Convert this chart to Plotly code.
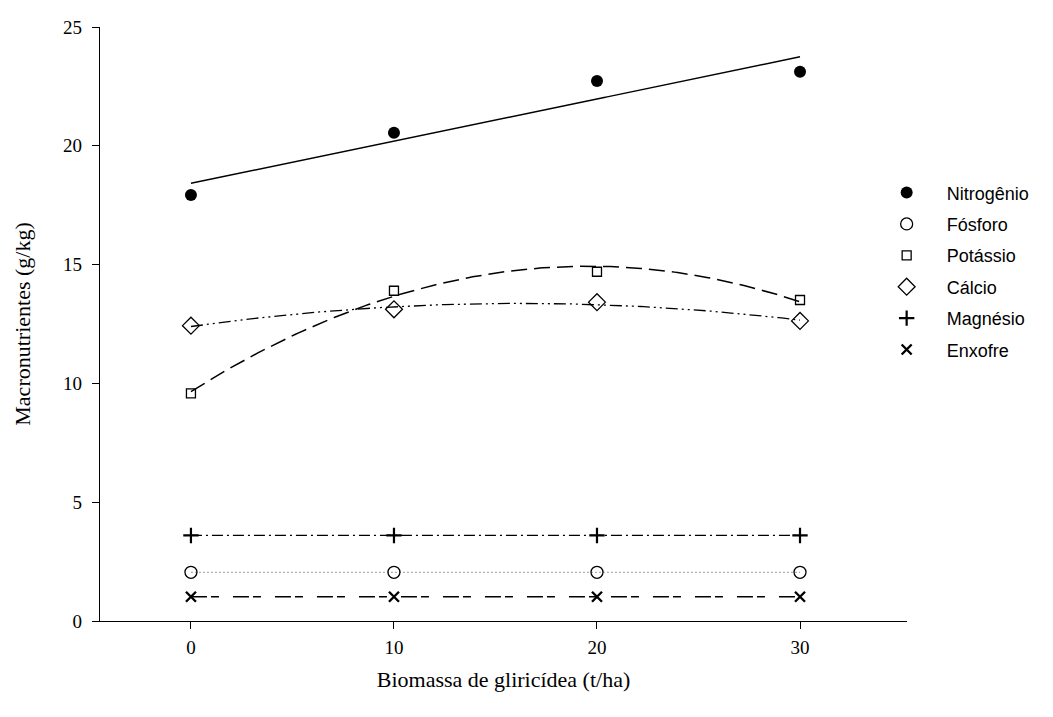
import numpy as np
import plotly.graph_objects as go

biomassa = [0, 10, 20, 30]
nitrogenio = [17.93, 20.55, 22.73, 23.12]
fosforo = [2.05, 2.05, 2.05, 2.05]
potassio = [9.58, 13.90, 14.70, 13.51]
calcio = [12.43, 13.12, 13.42, 12.63]
magnesio = [3.60, 3.60, 3.60, 3.60]
enxofre = [1.02, 1.02, 1.02, 1.02]

x_ticks = [0, 10, 20, 30]
y_ticks = [0, 5, 10, 15, 20, 25]

series = [
    ("Nitrogênio", nitrogenio, 1, dict(symbol="circle", size=12, color="black"),
     dict(color="black", width=1.5, dash="solid")),
    ("Fósforo", fosforo, 0, dict(symbol="circle-open", size=12, color="black", line=dict(width=1.3)),
     dict(color="#999999", width=1, dash="2px,2px")),
    ("Potássio", potassio, 2, dict(symbol="square-open", size=9, color="black", line=dict(width=1.3)),
     dict(color="black", width=1.5, dash="16px,7px")),
    ("Cálcio", calcio, 2, dict(symbol="diamond-open", size=13, color="black", line=dict(width=1.3)),
     dict(color="black", width=1.3, dash="12px,4px,2px,4px,2px,4px")),
    ("Magnésio", magnesio, 0, dict(symbol="cross-thin-open", size=11, color="black", line=dict(width=2.2, color="black")),
     dict(color="black", width=1.3, dash="11px,4px,2px,4px")),
    ("Enxofre", enxofre, 0, dict(symbol="x-thin-open", size=10, color="black", line=dict(width=2.4, color="black")),
     dict(color="black", width=1.3, dash="16px,4px,8px,14px")),
]

fig = go.Figure()
xs = np.linspace(min(biomassa), max(biomassa), 200)
for name, vals, deg, mk, ln in series:
    coef = np.polyfit(biomassa, vals, deg)
    fig.add_trace(go.Scatter(x=xs, y=np.polyval(coef, xs), mode="lines", line=ln,
                             showlegend=False, hoverinfo="skip"))
for name, vals, deg, mk, ln in series:
    fig.add_trace(go.Scatter(x=biomassa, y=vals, mode="markers", name=name, marker=mk,
                             legendgroup=name))

serif = "Liberation Serif, Times New Roman, serif"
axis_font = dict(family=serif, size=19, color="black")
fig.update_layout(
    width=1053, height=717,
    margin=dict(l=100, r=146, t=27, b=96),
    paper_bgcolor="white", plot_bgcolor="white",
    showlegend=True,
    legend=dict(x=0.950, y=0.752, xanchor="left", yanchor="top",
                font=dict(family="Liberation Sans, Arial, sans-serif", size=18, color="black"),
                bgcolor="rgba(0,0,0,0)", itemwidth=70, tracegroupgap=5),
    xaxis=dict(range=[-4.48, 35.27], tickvals=x_ticks, ticks="outside", ticklen=7,
               showline=True, linecolor="black", linewidth=1.3, showgrid=False, zeroline=False,
               tickfont=axis_font, tickcolor="black", ticklabelstandoff=2,
               title=dict(text="Biomassa de gliricídea (t/ha)", font=dict(family=serif, size=22, color="black"), standoff=14)),
    yaxis=dict(range=[0, 25], tickvals=y_ticks, ticks="outside", ticklen=7,
               showline=True, linecolor="black", linewidth=1.3, showgrid=False, zeroline=False,
               tickfont=axis_font, tickcolor="black", ticklabelstandoff=6,
               title=dict(text="Macronutrientes (g/kg)", font=dict(family=serif, size=22, color="black"), standoff=26)),
)

fig.write_html("out.html")
